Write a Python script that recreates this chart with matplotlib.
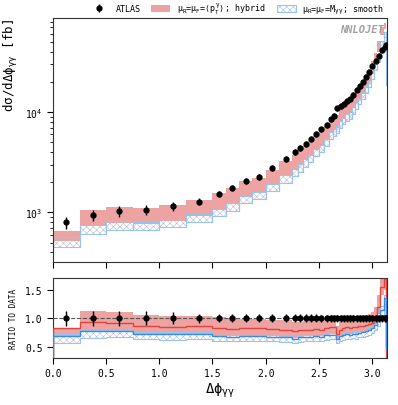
import numpy as np
import matplotlib
matplotlib.use("Agg")
import matplotlib.pyplot as plt
from matplotlib.patches import Patch

plt.rcParams['font.family'] = ['DejaVu Sans Mono', 'DejaVu Sans']
plt.rcParams['mathtext.fontset'] = 'custom'
plt.rcParams['mathtext.rm'] = 'DejaVu Sans Mono'
plt.rcParams['mathtext.it'] = 'DejaVu Sans Mono'
plt.rcParams['mathtext.bf'] = 'DejaVu Sans Mono:bold'
plt.rcParams['hatch.linewidth'] = 0.4

# ---------------- data ----------------
bin_edges = [0.0, 0.25, 0.5, 0.75, 1.0, 1.25, 1.5,
             1.625, 1.75, 1.875, 2.0, 2.125, 2.25,
             2.3, 2.35, 2.4, 2.45, 2.5, 2.55, 2.6,
             2.63, 2.66, 2.69, 2.72, 2.75, 2.78, 2.81, 2.84, 2.87,
             2.90, 2.93, 2.96, 2.99, 3.02, 3.05, 3.08, 3.11, 3.13, 3.14159]

atlas_xs = [794, 944, 1023, 1059, 1148, 1282,
            1538, 1766, 2056, 2255, 2754, 3412,
            4045, 4365, 4863, 5370, 6026, 6761, 7464,
            8510, 9230, 10960, 11480, 12160, 12790, 13490, 14890, 16790,
            18200, 20180, 22650, 25120, 29170, 32730, 36730, 41690, 44670, 46770]

atlas_relerr = [0.13, 0.13, 0.13, 0.12, 0.10, 0.08,
                0.07, 0.07, 0.07, 0.07, 0.07, 0.07,
                0.07, 0.07, 0.07, 0.07, 0.07, 0.06, 0.06,
                0.06, 0.06, 0.06, 0.06, 0.06, 0.06, 0.06, 0.06, 0.06,
                0.06, 0.06, 0.06, 0.06, 0.06, 0.06, 0.06, 0.06, 0.06, 0.06]

# NNLOJET predictions as ratio to data
hyb_c  = [0.83, 0.93, 0.92, 0.87, 0.85, 0.86, 0.82, 0.81, 0.82, 0.82, 0.81, 0.80,
          0.78, 0.79, 0.80, 0.80, 0.81, 0.80, 0.83, 0.84, 0.84, 0.72, 0.80, 0.82,
          0.84, 0.83, 0.85, 0.84, 0.86, 0.87, 0.88, 0.90, 0.92, 1.00, 1.20, 1.55, 1.68, 0.002]
hyb_lo = [0.66, 0.78, 0.77, 0.73, 0.72, 0.72, 0.70, 0.69, 0.70, 0.70, 0.69, 0.68,
          0.67, 0.68, 0.69, 0.69, 0.70, 0.69, 0.72, 0.72, 0.72, 0.63, 0.69, 0.71,
          0.73, 0.72, 0.74, 0.73, 0.75, 0.76, 0.77, 0.79, 0.82, 0.90, 1.08, 1.40, 1.50, 0.001]
hyb_hi = [0.83, 1.13, 1.11, 1.05, 1.04, 1.04, 1.02, 1.00, 0.99, 0.98, 0.97, 0.96,
          0.93, 0.94, 0.95, 0.95, 0.96, 0.95, 0.98, 0.98, 0.99, 0.86, 0.95, 0.97,
          0.99, 0.98, 1.00, 0.99, 1.02, 1.03, 1.05, 1.07, 1.10, 1.20, 1.40, 1.68, 1.75, 0.003]

smo_c  = [0.68, 0.78, 0.78, 0.73, 0.72, 0.73, 0.68, 0.67, 0.68, 0.68, 0.67, 0.66,
          0.64, 0.66, 0.67, 0.67, 0.68, 0.67, 0.70, 0.71, 0.71, 0.63, 0.68, 0.70,
          0.72, 0.71, 0.73, 0.72, 0.74, 0.75, 0.77, 0.79, 0.82, 0.88, 0.95, 1.15, 1.35, 0.45]
smo_lo = [0.57, 0.65, 0.66, 0.63, 0.62, 0.63, 0.60, 0.59, 0.60, 0.60, 0.59, 0.58,
          0.57, 0.58, 0.59, 0.59, 0.60, 0.59, 0.62, 0.63, 0.63, 0.56, 0.60, 0.62,
          0.64, 0.63, 0.65, 0.64, 0.66, 0.67, 0.69, 0.71, 0.74, 0.80, 0.87, 1.05, 1.25, 0.40]
smo_hi = [0.72, 0.80, 0.80, 0.76, 0.75, 0.76, 0.71, 0.70, 0.71, 0.71, 0.70, 0.69,
          0.67, 0.69, 0.70, 0.70, 0.71, 0.70, 0.73, 0.74, 0.74, 0.66, 0.71, 0.73,
          0.75, 0.74, 0.76, 0.75, 0.77, 0.78, 0.80, 0.82, 0.85, 0.92, 1.00, 1.22, 1.40, 0.50]

legend_labels = ["ATLAS",
                 r"$\mu_\mathrm{R}$=$\mu_\mathrm{F}$=$\langle p_\mathrm{T}^\gamma\rangle$; hybrid",
                 r"$\mu_\mathrm{R}$=$\mu_\mathrm{F}$=$M_{\gamma\gamma}$; smooth"]

# ---------------- plotting ----------------
edges = np.array(bin_edges)
centers = 0.5 * (edges[1:] + edges[:-1])
data = np.array(atlas_xs, dtype=float)
derr = data * np.array(atlas_relerr)

def ext(a):
    a = np.asarray(a, dtype=float)
    return np.append(a, a[-1])

RED_FILL = '#eca3a1'
RED_LINE = '#e0443c'
BLUE_EDGE = '#9cc2ee'
BLUE_HATCH = '#b8bcc8'
BLUE_LINE = '#3b8ae0'

fig = plt.figure(figsize=(3.98, 4.06), dpi=100)
ax = fig.add_axes([0.1332, 0.3522, 0.8392, 0.601])
axr = fig.add_axes([0.1332, 0.1158, 0.8392, 0.1963])

# top panel: bands
ax.fill_between(edges, ext(data * np.array(hyb_lo)), ext(data * np.array(hyb_hi)),
                step='post', color=RED_FILL, lw=0, zorder=1)
sl = data * np.array(smo_lo)
sh = data * np.array(smo_hi)
ax.fill_between(edges, ext(sl), ext(sh), step='post', facecolor='none',
                edgecolor=BLUE_HATCH, hatch='xxxxx', lw=0, zorder=2)
ax.stairs(sh, edges, baseline=sl, fill=False, color=BLUE_EDGE, lw=0.8, zorder=2)
for i in range(len(centers)):
    ax.plot([edges[i], edges[i]], [sl[i], sh[i]], color=BLUE_EDGE, lw=0.8, zorder=2)
    ax.plot([edges[i + 1], edges[i + 1]], [sl[i], sh[i]], color=BLUE_EDGE, lw=0.8, zorder=2)
ax.errorbar(centers, data, yerr=derr, fmt='o', color='black', ms=3.5,
            elinewidth=1.0, capsize=0, zorder=5)

ax.set_yscale('log')
ax.set_ylim(320, 87000)
ax.set_xlim(0, np.pi)
ax.set_ylabel(r'd$\sigma$/d$\Delta\phi_{\gamma\gamma}$ [fb]', fontsize=9, labelpad=4, loc='top')
ax.tick_params(axis='x', labelbottom=False, direction='out', length=4, width=0.8)
ax.tick_params(axis='y', which='major', direction='out', length=4, width=0.8, labelsize=7)
ax.tick_params(axis='y', which='minor', direction='out', length=2, width=0.6)
ax.set_xticks([0, 0.5, 1.0, 1.5, 2.0, 2.5, 3.0])
ax.text(0.99, 0.975, 'NNLOJET', transform=ax.transAxes, ha='right', va='top',
        fontsize=7.5, color='#a0a0a0', fontweight='bold', style='italic')

eb = ax.errorbar([], [], yerr=[], fmt='o', color='black', ms=3.5, elinewidth=1.0)
handles = [
    eb,
    Patch(facecolor=RED_FILL, edgecolor='none'),
    Patch(facecolor='white', edgecolor=BLUE_EDGE, hatch='xxxxx', lw=0.8),
]
fig.legend(handles, legend_labels, loc='center', bbox_to_anchor=(0.595, 0.977), ncol=3,
           frameon=False, fontsize=6, handlelength=2.3, handleheight=0.8,
           columnspacing=1.3, handletextpad=0.8, borderaxespad=0)

# ratio panel
axr.axhline(1.0, color='#555555', ls='--', lw=0.8, zorder=3)
axr.fill_between(edges, ext(hyb_lo), ext(hyb_hi), step='post', color=RED_FILL, lw=0, zorder=1)
axr.fill_between(edges, ext(smo_lo), ext(smo_hi), step='post', facecolor='none',
                 edgecolor=BLUE_HATCH, hatch='xxxxx', lw=0, zorder=2)
axr.stairs(smo_lo, edges, color=BLUE_EDGE, lw=0.8, zorder=2)
axr.stairs(smo_hi, edges, color=BLUE_EDGE, lw=0.8, zorder=2)
axr.stairs(hyb_c, edges, color=RED_LINE, lw=1.0, zorder=3)
axr.stairs(smo_c, edges, color=BLUE_LINE, lw=1.0, zorder=3)
axr.errorbar(centers, np.ones_like(centers), yerr=np.array(atlas_relerr), fmt='o',
             color='black', ms=3.5, elinewidth=1.0, capsize=0, zorder=5)
axr.set_xlim(0, np.pi)
axr.set_ylim(0.3, 1.7)
axr.set_yticks([0.5, 1.0, 1.5])
axr.set_xticks([0, 0.5, 1.0, 1.5, 2.0, 2.5, 3.0])
axr.tick_params(direction='out', length=4, width=0.8, labelsize=7)
axr.set_ylabel('RATIO TO DATA', fontsize=5.5, labelpad=5)
axr.set_xlabel(r'$\Delta\phi_{\gamma\gamma}$', fontsize=10, labelpad=2)

for a in (ax, axr):
    for s in a.spines.values():
        s.set_linewidth(0.8)
        s.set_color('#333333')

fig.savefig('out.png', dpi=100)
